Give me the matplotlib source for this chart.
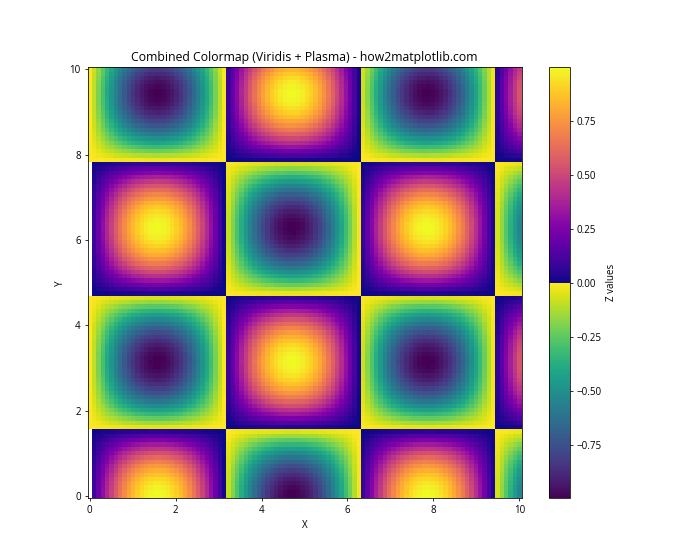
import numpy as np
import matplotlib
matplotlib.use('Agg')
import matplotlib.pyplot as plt
from matplotlib.colors import ListedColormap

plt.rcParams['font.family'] = ['Open Sans', 'DejaVu Sans']

# values: strength along x (columns) and along y (rows)
col_values = [0.0, 0.1008, 0.2007, 0.2984, 0.3931, 0.4838, 0.5696, 0.6497, 0.7231, 0.7891,
              0.8468, 0.8960, 0.9365, 0.9671, 0.9878, 0.9985, 0.9990, 0.9893, 0.9696, 0.9401,
              0.9010, 0.8529, 0.7958, 0.7307, 0.6581, 0.5788, 0.4937, 0.4036, 0.3094, 0.2107,
              0.1111, 0.0103, -0.0907, -0.1906, -0.2886, -0.3837, -0.4748, -0.5612, -0.6417, -0.7159,
              -0.7826, -0.8414, -0.8915, -0.9326, -0.9644, -0.9861, -0.9978, -0.9994, -0.9907, -0.9719,
              -0.9433, -0.9051, -0.8580, -0.8022, -0.7380, -0.6651, -0.5865, -0.5017, -0.4119, -0.3180,
              -0.2208, -0.1213, -0.0206, 0.0804, 0.1804, 0.2787, 0.3741, 0.4657, 0.5527, 0.6339,
              0.7086, 0.7761, 0.8357, 0.8868, 0.9288, 0.9615, 0.9843, 0.9971, 0.9997, 0.9921,
              0.9745, 0.9467, 0.9095, 0.8630, 0.8079, 0.7445, 0.6728, 0.5947, 0.5106, 0.4213,
              0.3277, 0.2308, 0.1315, 0.0309, -0.0701, -0.1704, -0.2688, -0.3646, -0.4566, -0.5440]

row_values = [1.0, 0.9949, 0.9797, 0.9544, 0.9195, 0.8752, 0.8218, 0.7602, 0.6907, 0.6143,
              0.5319, 0.4441, 0.3507, 0.2549, 0.1560, 0.0555, -0.0454, -0.1460, -0.2447, -0.3409,
              -0.4338, -0.5230, -0.6063, -0.6834, -0.7536, -0.8160, -0.8700, -0.9155, -0.9511, -0.9776,
              -0.9938, -0.9999, -0.9959, -0.9817, -0.9575, -0.9235, -0.8801, -0.8276, -0.7669, -0.6983,
              -0.6225, -0.5405, -0.4531, -0.3610, -0.2648, -0.1660, -0.0659, 0.0351, 0.1357, 0.2349,
              0.3317, 0.4251, 0.5142, 0.5981, 0.6758, 0.7467, 0.8102, 0.8654, 0.9113, 0.9481,
              0.9754, 0.9926, 0.9998, 0.9968, 0.9836, 0.9604, 0.9274, 0.8849, 0.8335, 0.7735,
              0.7056, 0.6306, 0.5492, 0.4622, 0.3706, 0.2748, 0.1765, 0.0761, -0.0248, -0.1253,
              -0.2249, -0.3220, -0.4158, -0.5054, -0.5897, -0.6682, -0.7399, -0.8040, -0.8598, -0.9069,
              -0.9449, -0.9730, -0.9913, -0.9995, -0.9975, -0.9853, -0.9632, -0.9312, -0.8895, -0.8391]

x = np.linspace(0, 10, len(col_values))
y = np.linspace(0, 10, len(row_values))
z = np.outer(row_values, col_values)

# first column is blank where the row is positive in the original
z[(z == 0) & (np.array(row_values)[:, None] > 0)] = np.nan

colors = np.vstack((plt.cm.viridis(np.linspace(0, 1, 128)), plt.cm.plasma(np.linspace(0, 1, 128))))
combined = ListedColormap(colors)

fig = plt.figure(figsize=(10, 8), dpi=70)
mesh = plt.pcolormesh(x, y, z, cmap=combined, shading='auto', vmin=np.nanmin(z), vmax=np.nanmax(z))
plt.colorbar(mesh, label='Z values')
plt.title('Combined Colormap (Viridis + Plasma) - how2matplotlib.com', fontsize=12.6)
plt.xlabel('X')
plt.ylabel('Y')
plt.savefig('out.png')
